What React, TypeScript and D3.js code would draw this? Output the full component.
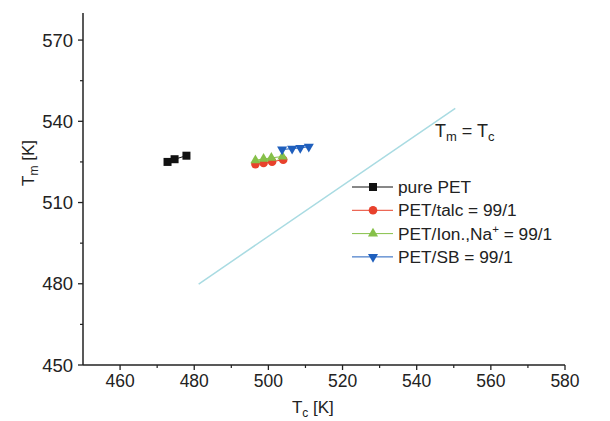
import React from "react";
import * as d3 from "d3";

const W = 610;
const H = 421;

const xTicks = [460, 480, 500, 520, 540, 560, 580];
const yTicks = [450, 480, 510, 540, 570];

const pureTc = [472.8, 474.7, 477.9];
const pureTm = [525.0, 526.0, 527.3];
const talcTc = [496.5, 498.7, 501.0, 504.0];
const talcTm = [524.2, 524.6, 525.1, 525.8];
const ionTc = [496.5, 498.7, 500.8, 503.8];
const ionTm = [525.6, 526.1, 526.5, 527.0];
const sbTc = [503.7, 506.4, 508.6, 510.9];
const sbTm = [529.6, 529.9, 530.2, 530.6];
const diagTc = [481.2, 550.4];
const diagTm = [479.9, 544.8];

type Series = { name: string; tc: number[]; tm: number[]; color: string; shape: string };
const seriesList: Series[] = [
  { name: "pure PET", tc: pureTc, tm: pureTm, color: "#111111", shape: "square" },
  { name: "PET/talc = 99/1", tc: talcTc, tm: talcTm, color: "#e8412c", shape: "circle" },
  { name: "PET/Ion.,Na", tc: ionTc, tm: ionTm, color: "#86c049", shape: "triangle" },
  { name: "PET/SB = 99/1", tc: sbTc, tm: sbTm, color: "#1f5fbd", shape: "triangleDown" },
];

const x = d3.scaleLinear().domain([450, 580]).range([83, 565]);
const y = d3.scaleLinear().domain([450, 580]).range([365, 13]);

function Marker({ shape, cx, cy, color }: { shape: string; cx: number; cy: number; color: string }) {
  if (shape === "square") return <rect x={cx - 4} y={cy - 4} width={8} height={8} fill={color} />;
  if (shape === "circle") return <circle cx={cx} cy={cy} r={4.3} fill={color} />;
  const sym = d3.symbol().type(d3.symbolTriangle).size(44)();
  return (
    <path
      d={sym || ""}
      transform={`translate(${cx},${cy})${shape === "triangleDown" ? " rotate(180)" : ""}`}
      fill={color}
    />
  );
}

export default function App() {
  const line = d3.line<[number, number]>().x((d) => x(d[0])).y((d) => y(d[1]));
  const font = "Liberation Sans, Arial, sans-serif";
  const xMinor = d3.range(470, 580, 20);
  const yMinor = d3.range(465, 580, 30);
  const legendX = 352;
  const legendY0 = 187;
  const legendDy = 23.3;
  return (
    <svg width={W} height={H} style={{ position: "absolute", left: 0, top: 0 }} fontFamily={font}>
      <rect width={W} height={H} fill="white" />
      {/* diagonal */}
      <path
        d={line(diagTc.map((t, i) => [t, diagTm[i]] as [number, number])) || ""}
        stroke="#a9dbe2"
        strokeWidth={1.5}
        fill="none"
      />
      {/* axes */}
      <line x1={x(450)} x2={x(450)} y1={y(580)} y2={y(450)} stroke="#222" strokeWidth={1.5} />
      <line x1={x(450)} x2={x(580)} y1={y(450)} y2={y(450)} stroke="#222" strokeWidth={1.5} />
      {xTicks.map((t) => (
        <g key={"xt" + t}>
          <line x1={x(t)} x2={x(t)} y1={y(450)} y2={y(450) + 5} stroke="#222" strokeWidth={1.3} />
          <text x={x(t)} y={387} fontSize={17.5} textAnchor="middle" fill="#222">
            {t}
          </text>
        </g>
      ))}
      {xMinor.map((t) => (
        <line key={"xm" + t} x1={x(t)} x2={x(t)} y1={y(450)} y2={y(450) + 3} stroke="#222" strokeWidth={1.2} />
      ))}
      {yTicks.map((t) => (
        <g key={"yt" + t}>
          <line x1={x(450) - 5} x2={x(450)} y1={y(t)} y2={y(t)} stroke="#222" strokeWidth={1.3} />
          <text x={73} y={y(t) + 6.5} fontSize={18.5} textAnchor="end" fill="#222">
            {t}
          </text>
        </g>
      ))}
      {yMinor.map((t) => (
        <line key={"ym" + t} x1={x(450) - 3} x2={x(450)} y1={y(t)} y2={y(t)} stroke="#222" strokeWidth={1.2} />
      ))}
      {/* axis labels */}
      <text transform="translate(34,163) rotate(-90)" fontSize={17} textAnchor="middle" fill="#222">
        T<tspan fontSize={12} dy={4}>m</tspan>
        <tspan dy={-4}> [K]</tspan>
      </text>
      <text x={x(512)} y={413} fontSize={17} textAnchor="middle" fill="#222">
        T<tspan fontSize={12} dy={4}>c</tspan>
        <tspan dy={-4}> [K]</tspan>
      </text>
      {/* Tm = Tc label */}
      <text x={435} y={137} fontSize={18} fill="#222">
        T<tspan fontSize={13} dy={4}>m</tspan>
        <tspan dy={-4}> = T</tspan>
        <tspan fontSize={13} dy={4}>c</tspan>
      </text>
      {/* series */}
      {seriesList.map((s) => (
        <g key={s.name}>
          <path
            d={line(s.tc.map((t, i) => [t, s.tm[i]] as [number, number])) || ""}
            stroke={s.color}
            strokeWidth={1}
            fill="none"
          />
          {s.tc.map((t, i) => (
            <Marker key={i} shape={s.shape} cx={x(t)} cy={y(s.tm[i])} color={s.color} />
          ))}
        </g>
      ))}
      {/* legend */}
      {seriesList.map((s, i) => {
        const ly = legendY0 + i * legendDy;
        return (
          <g key={"lg" + s.name}>
            <line x1={legendX} x2={legendX + 41} y1={ly} y2={ly} stroke={s.color} strokeWidth={1} />
            <Marker shape={s.shape} cx={legendX + 21} cy={ly} color={s.color} />
            <text x={legendX + 46} y={ly + 6} fontSize={17.3} fill="#222">
              {s.shape === "triangle" ? (
                <>
                  PET/Ion.,Na<tspan fontSize={11.5} dy={-7}>+</tspan>
                  <tspan dy={7}> = 99/1</tspan>
                </>
              ) : (
                s.name
              )}
            </text>
          </g>
        );
      })}
    </svg>
  );
}
